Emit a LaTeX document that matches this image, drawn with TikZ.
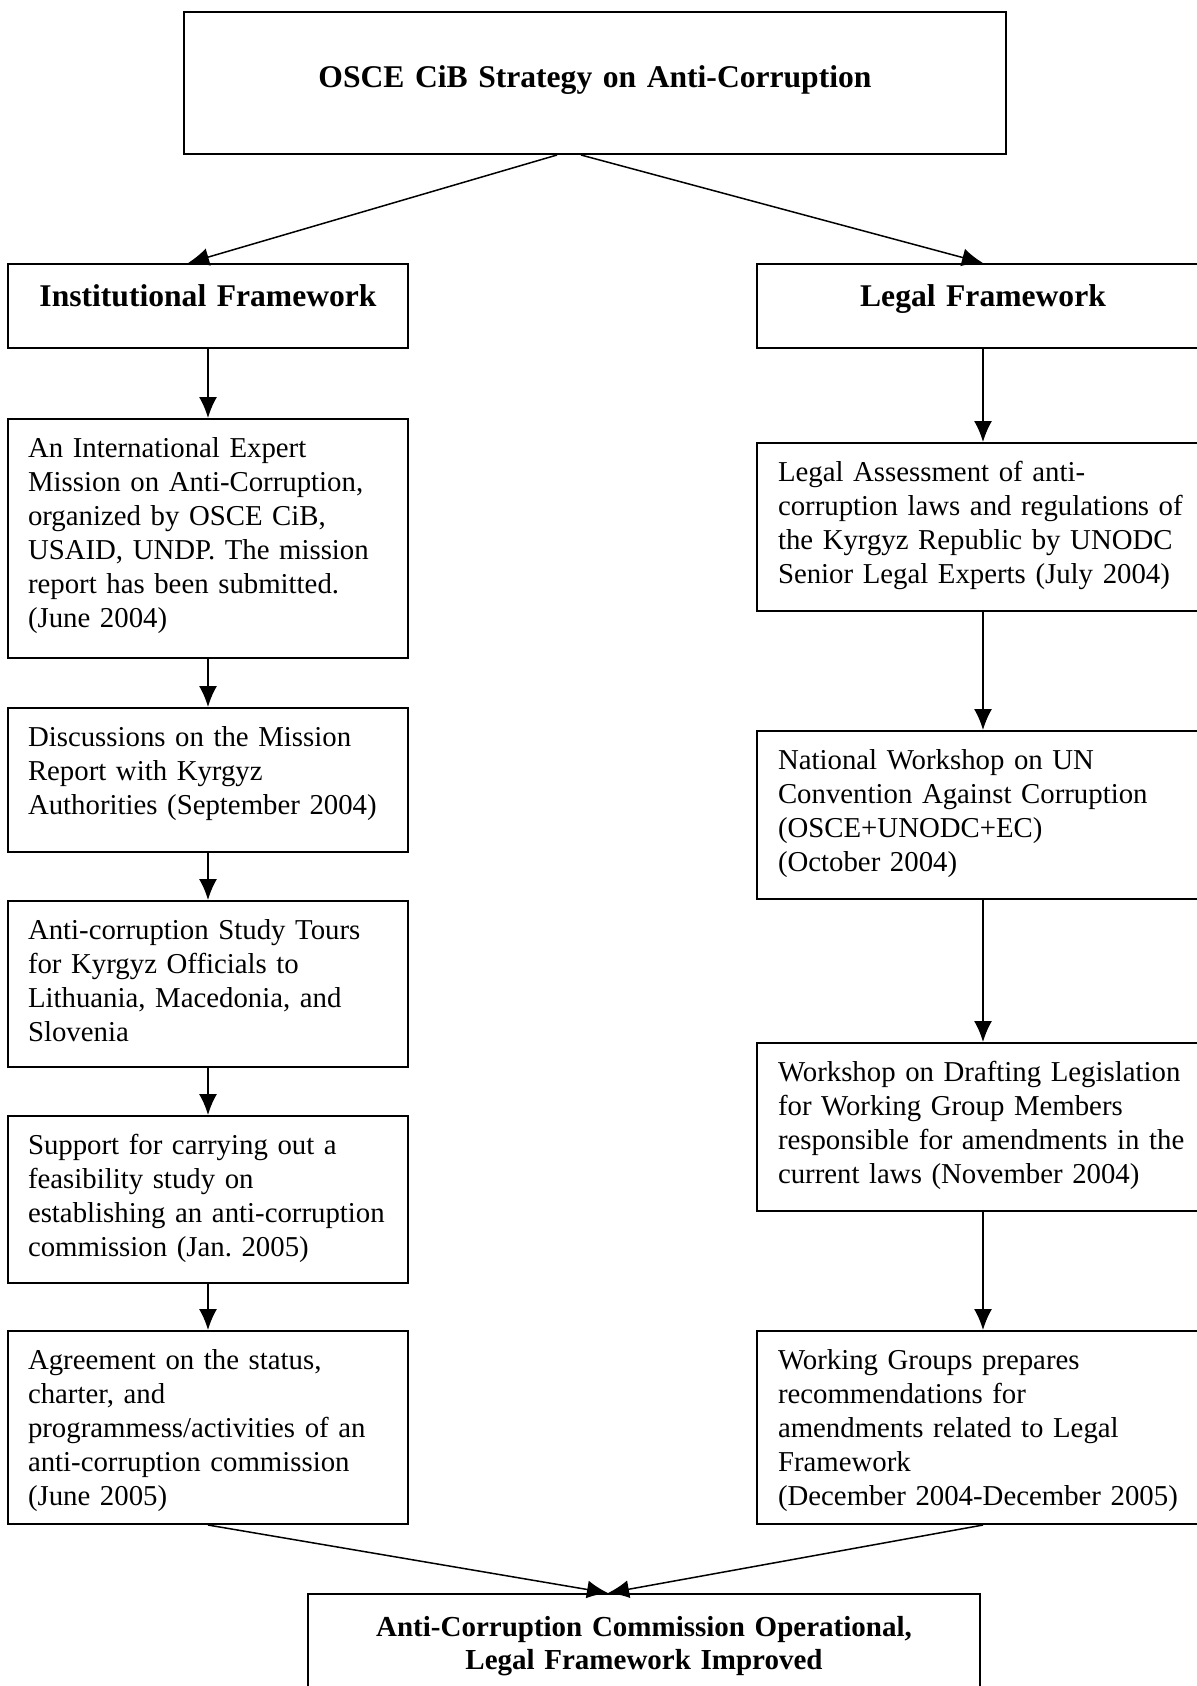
\documentclass[tikz,border=0pt]{standalone}
\usepackage{fontspec}
\setmainfont{Liberation Serif}
\usetikzlibrary{arrows.meta}
\frenchspacing

\begin{document}
\begin{tikzpicture}[x=0.5pt, y=-0.5pt,
    every node/.style={font=\fontsize{14.4}{17}\selectfont},
    stage/.style={draw, line width=1pt, anchor=north west, inner xsep=10pt, inner ysep=0pt, text height=19pt, align=left},
    leftstage/.style={stage, text width=180pt},
    rightstage/.style={stage, text width=205pt, inner xsep=10.5pt},
    headline/.style={stage, align=center, text height=21pt, font=\fontsize{15.8}{16.5}\selectfont\bfseries},
    flow/.style={line width=0.75pt, -{Latex[length=10.5pt,width=9pt]}}]
\useasboundingbox (0,0) rectangle (1197,1686);
\clip (0,0) rectangle (1197,1686);
% top and the two frameworks
\node[headline, text width=391pt, text height=38pt, text depth=33pt] (strategy) at (183,11) {OSCE CiB Strategy on Anti-Corruption};
\node[headline, text width=180pt, text depth=21pt] (inst) at (7,263) {Institutional Framework};
\node[headline, text width=206pt, text depth=21pt] (legal) at (756,263) {Legal Framework};
% institutional steps
\node[leftstage, text depth=100.5pt] (l1) at (7,418) {An International Expert\\Mission on Anti-Corruption,\\organized by OSCE CiB,\\USAID, UNDP. The mission\\report has been submitted.\\(June 2004)};
\node[leftstage, text depth=53pt] (l2) at (7,707) {Discussions on the Mission\\Report with Kyrgyz\\Authorities (September 2004)};
\node[leftstage, text depth=64pt] (l3) at (7,900) {Anti-corruption Study Tours\\for Kyrgyz Officials to\\Lithuania, Macedonia, and\\Slovenia};
\node[leftstage, text depth=64.5pt] (l4) at (7,1115) {Support for carrying out a\\feasibility study on\\establishing an anti-corruption\\commission (Jan. 2005)};
\node[leftstage, text depth=77.5pt] (l5) at (7,1330) {Agreement on the status,\\charter, and\\programmess/activities of an\\anti-corruption commission\\(June 2005)};
% legal steps
\node[rightstage, text depth=65pt] (r1) at (756,442) {Legal Assessment of anti-\\corruption laws and regulations of\\the Kyrgyz Republic by UNODC\\Senior Legal Experts (July 2004)};
\node[rightstage, text depth=65pt] (r2) at (756,730) {National Workshop on UN\\Convention Against Corruption\\(OSCE+UNODC+EC)\\(October 2004)};
\node[rightstage, text depth=65pt] (r3) at (756,1042) {Workshop on Drafting Legislation\\for Working Group Members\\responsible for amendments in the\\current laws (November 2004)};
\node[rightstage, text depth=77.5pt] (r4) at (756,1330) {Working Groups prepares\\recommendations for\\amendments related to Legal\\Framework\\(December 2004-December 2005)};
% outcome
\node[headline, text width=316pt, text depth=29pt, font=\fontsize{14.5}{16.6}\selectfont\bfseries] (goal) at (307,1593) {Anti-Corruption Commission Operational,\\Legal Framework Improved};

\draw[flow] ([xshift=-19pt]strategy.south) -- ([xshift=-10pt]inst.north);
\draw[flow] ([xshift=-7pt]strategy.south) -- (legal.north);
\foreach \a/\b in {inst/l1,l1/l2,l2/l3,l3/l4,l4/l5,legal/r1,r1/r2,r2/r3,r3/r4}
  \draw[flow] (\a.south) -- (\b.north);
\draw[flow] (l5.south) -- ([xshift=-18pt]goal.north);
\draw[flow] (r4.south) -- ([xshift=-18pt]goal.north);
\end{tikzpicture}
\end{document}
